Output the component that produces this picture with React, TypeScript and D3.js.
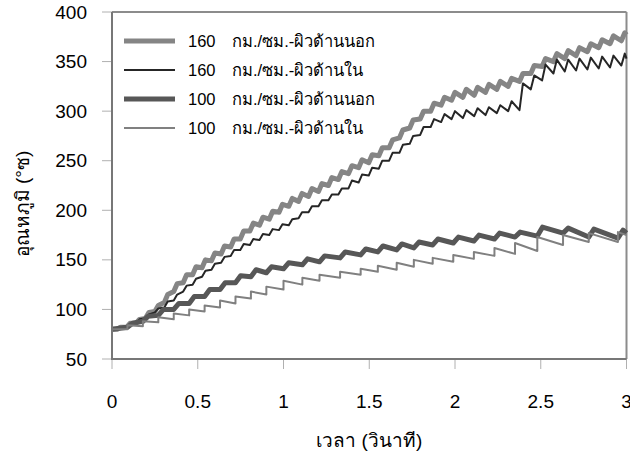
import React from 'react'
import * as d3 from 'd3'

// axis ticks
const timeTicks = [0, 0.5, 1, 1.5, 2, 2.5, 3]
const tempTicks = [50, 100, 150, 200, 250, 300, 350, 400]

const legendNames = [
  'กม./ซม.-ผิวด้านนอก',
  'กม./ซม.-ผิวด้านใน',
  'กม./ซม.-ผิวด้านนอก',
  'กม./ซม.-ผิวด้านใน',
]
const legendSpeeds = ['160', '160', '100', '100']

// 160 km/h: times of the low and high point of every tooth (s)
const fastTroughT = [0.03, 0.085, 0.14, 0.195, 0.25, 0.305, 0.36, 0.415, 0.47, 0.525, 0.58, 0.636, 0.692, 0.748, 0.804, 0.86, 0.917, 0.974, 1.031, 1.088, 1.146, 1.204, 1.262, 1.32, 1.379, 1.438, 1.497, 1.556, 1.616, 1.676, 1.736, 1.797, 1.858, 1.919, 1.98, 2.046, 2.112, 2.178, 2.244, 2.31, 2.376, 2.442, 2.508, 2.574, 2.64, 2.706, 2.772, 2.838, 2.904, 2.97]
const fastPeakT = [0.05, 0.105, 0.16, 0.215, 0.27, 0.325, 0.38, 0.435, 0.49, 0.545, 0.6, 0.656, 0.712, 0.768, 0.824, 0.88, 0.937, 0.994, 1.051, 1.108, 1.166, 1.224, 1.282, 1.34, 1.399, 1.458, 1.517, 1.576, 1.636, 1.696, 1.756, 1.817, 1.878, 1.939, 2.0, 2.066, 2.132, 2.198, 2.264, 2.33, 2.396, 2.462, 2.528, 2.594, 2.66, 2.726, 2.792, 2.858, 2.924, 2.99]

const outer160Trough = [80, 82, 86, 91, 98, 107, 118, 127, 135, 142, 149, 156, 163, 171, 179, 185, 191, 198, 204, 209, 214, 219, 225, 231, 237, 243, 248, 255, 263, 273, 283, 292, 300, 306, 311, 314, 316, 319, 322, 325, 330, 338, 345, 350, 353, 356, 360, 364, 368, 371]
const outer160Peak = [82, 86, 90, 97, 104, 115, 126, 135, 143, 150, 157, 164, 171, 179, 187, 193, 199, 206, 212, 217, 222, 227, 233, 239, 245, 251, 256, 263, 271, 281, 291, 300, 308, 314, 319, 322, 324, 327, 330, 333, 338, 346, 353, 358, 361, 364, 368, 372, 376, 379]
const inner160Trough = [80, 83, 86, 91, 97, 102, 109, 118, 125, 133, 140, 147, 154, 160, 165, 170, 175, 180, 185, 192, 198, 204, 210, 216, 222, 228, 235, 242, 250, 258, 267, 276, 284, 289, 292, 293, 295, 296, 298, 300, 301, 322, 331, 338, 340, 341, 342, 343, 344, 346]
const inner160Peak = [82, 85, 90, 95, 101, 108, 115, 124, 131, 139, 146, 153, 160, 166, 171, 176, 181, 186, 191, 198, 204, 210, 216, 222, 230, 236, 243, 250, 258, 266, 275, 284, 292, 297, 300, 301, 303, 304, 306, 310, 328, 336, 347, 352, 352, 353, 354, 355, 356, 358]

// 100 km/h: step times, value just before and just after each step
const slowStepT = [0.09, 0.18, 0.27, 0.36, 0.45, 0.54, 0.63, 0.72, 0.81, 0.9, 1.0, 1.11, 1.21, 1.33, 1.45, 1.55, 1.66, 1.76, 1.87, 1.99, 2.11, 2.23, 2.35, 2.48, 2.63, 2.78, 2.95]
// the outer surface rises a little more slowly after each step
const slowOuterTopT = [0.12, 0.21, 0.3, 0.39, 0.48, 0.57, 0.66, 0.75, 0.84, 0.93, 1.03, 1.14, 1.24, 1.36, 1.48, 1.58, 1.69, 1.79, 1.9, 2.02, 2.14, 2.26, 2.38, 2.51, 2.66, 2.81, 2.98]
const outer100Before = [82, 88, 94, 100, 106, 113, 120, 127, 133, 137, 141, 145, 148, 152, 155, 158, 160, 162, 165, 167, 169, 171, 173, 174, 177, 173, 172]
const outer100After = [86, 93, 100, 106, 113, 120, 127, 134, 140, 143, 147, 151, 154, 158, 161, 164, 166, 168, 171, 173, 175, 177, 178, 183, 182, 181, 180]
const inner100Before = [80, 83, 87, 90, 94, 98, 102, 106, 111, 115, 120, 125, 129, 132, 135, 138, 140, 143, 146, 148, 151, 154, 156, 159, 165, 168, 168]
const inner100After = [84, 88, 92, 96, 100, 104, 109, 113, 118, 123, 129, 132, 135, 138, 141, 144, 147, 150, 152, 155, 158, 162, 167, 173, 175, 177, 178]

// first (t=0) and last (t=3) values
const outer160Ends = [80, 377]
const inner160Ends = [80, 353]
const outer100Ends = [80, 177]
const inner100Ends = [80, 175]

const font = '"Liberation Sans", Arial, sans-serif'

const toothPoints = (lowT: number[], highT: number[], lo: number[], hi: number[], ends: number[]) => {
  const pts: [number, number][] = [[0, ends[0]]]
  lowT.forEach((t, i) => {
    pts.push([t, lo[i]])
    pts.push([highT[i], hi[i]])
  })
  pts.push([3, ends[1]])
  return pts
}

const App = () => {
  const width = 630
  const height = 458
  const left = 112, right = 626.5, top = 12, bottom = 359

  const x = d3.scaleLinear().domain([0, 3]).range([left, right])
  const y = d3.scaleLinear().domain([50, 400]).range([bottom, top])

  const line = d3.line<[number, number]>()
    .x(d => x(d[0]))
    .y(d => y(d[1]))

  const series = [
    { pts: toothPoints(fastTroughT, fastPeakT, outer160Trough, outer160Peak, outer160Ends), color: '#858585', w: 5 },
    { pts: toothPoints(fastTroughT, fastPeakT, inner160Trough, inner160Peak, inner160Ends), color: '#262626', w: 2 },
    { pts: toothPoints(slowStepT, slowOuterTopT, outer100Before, outer100After, outer100Ends), color: '#575757', w: 5 },
    { pts: toothPoints(slowStepT, slowStepT, inner100Before, inner100After, inner100Ends), color: '#808080', w: 2 },
  ]

  return (
    <svg width={width} height={height} style={{ position: 'absolute', left: 0, top: 0, background: '#fff' }}
      fontFamily={font}>
      {tempTicks.map(v => (
        <g key={'y' + v}>
          <line x1={left - 10} x2={left} y1={y(v)} y2={y(v)} stroke="#b0b0b0" strokeWidth={1} />
          <text x={87} y={y(v)} textAnchor="end" dominantBaseline="central" fontSize={19} fill="#000">{v}</text>
        </g>
      ))}
      {timeTicks.map(v => (
        <g key={'x' + v}>
          <line x1={x(v)} x2={x(v)} y1={bottom} y2={bottom + 10} stroke="#b0b0b0" strokeWidth={1} />
          <text x={x(v)} y={401} textAnchor="middle" dominantBaseline="central" fontSize={19} fill="#000">{v}</text>
        </g>
      ))}

      {/* frame */}
      <line x1={left} x2={right} y1={top} y2={top} stroke="#8c8c8c" strokeWidth={2} />
      <line x1={right} x2={right} y1={top} y2={bottom} stroke="#8c8c8c" strokeWidth={2} />

      {series.map((s, i) => (
        <path key={i} d={line(s.pts) || ''} fill="none" stroke={s.color} strokeWidth={s.w}
          strokeLinejoin="round" strokeLinecap="butt" />
      ))}

      <line x1={left} x2={left} y1={top} y2={bottom + 1} stroke="#777" strokeWidth={2} />
      <line x1={left} x2={right} y1={bottom} y2={bottom} stroke="#777" strokeWidth={2} />

      {/* legend */}
      {series.map((s, i) => {
        const ly = 41 + i * 29
        return (
          <g key={'lg' + i}>
            <line x1={124} x2={175} y1={ly} y2={ly} stroke={s.color} strokeWidth={s.w} />
            <text x={188} y={ly} dominantBaseline="central" fontSize={16.5} fill="#000">{legendSpeeds[i]}</text>
            <text x={232} y={ly} dominantBaseline="central" fontSize={16.5} fill="#000">{legendNames[i]}</text>
          </g>
        )
      })}

      <text x={(left + right) / 2} y={440} textAnchor="middle" dominantBaseline="central" fontSize={19} fill="#000">
        เวลา (วินาที)
      </text>
      <text transform={`translate(22, 204) rotate(-90)`} textAnchor="middle" dominantBaseline="central"
        fontSize={19} fill="#000">
        อุณหภูมิ (°ซ)
      </text>
    </svg>
  )
}

export default App
